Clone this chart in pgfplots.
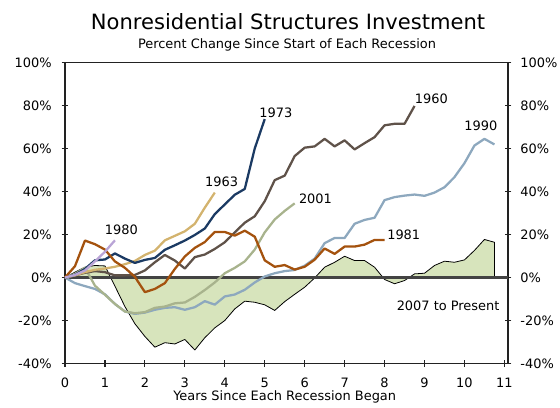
\documentclass[border=0pt]{standalone}
\usepackage{fontspec}
\setmainfont{DejaVu Sans}
\usepackage{xcolor}
\usepackage{pgfplots}
\pgfplotsset{compat=1.18}
\definecolor{cNavy}{HTML}{1B3A63}
\definecolor{cTaupe}{HTML}{5F5249}
\definecolor{cSteel}{HTML}{8DA8BE}
\definecolor{cTan}{HTML}{D3B36E}
\definecolor{cSage}{HTML}{A8B38D}
\definecolor{cRust}{HTML}{A4520E}
\definecolor{cLav}{HTML}{B9A4D6}
\definecolor{cFill}{HTML}{D7E4BC}
\definecolor{frame}{HTML}{222222}

\begin{document}
\begin{tikzpicture}
\path[use as bounding box] (0,0) rectangle (420pt,305.25pt);
\pgfplotsset{
  base/.style={
    at={(48.75pt,32.6pt)}, anchor=south west, scale only axis,
    width=332.25pt, height=225.75pt,
    xmin=0, xmax=11.09, ymin=-40, ymax=100,
    ytick={-40,-20,0,20,40,60,80,100},
    tick label style={font=\fontsize{9.7}{11}\selectfont},
  },
}
\begin{axis}[base,
  axis line style={frame, line width=1.1pt},
  tick style={frame, line width=0.9pt},
  tick align=center, major tick length=5pt,
  xtick={0,1,...,11}, xtick pos=bottom, ytick pos=both,
  xticklabels={0,1,2,3,4,5,6,7,8,9,10,11},
  yticklabels={-40\%,-20\%,0\%,20\%,40\%,60\%,80\%,100\%},
  yticklabel style={xshift=-4pt},
  xticklabel style={yshift=-4.5pt},
  every axis plot/.append style={line width=1.7pt, line join=round},
  clip=false]

% 2007 to present, shaded
\addplot[draw=black, line width=0.6pt, fill=cFill] coordinates {
  (0,0) (0.25,2.5) (0.5,4.8) (0.75,5.6) (1,5.4) (1.25,-4) (1.5,-13.5)
  (1.75,-21.5) (2,-27.4) (2.25,-32.4) (2.5,-30.3) (2.75,-30.9) (3,-28.8)
  (3.25,-33.7) (3.5,-28) (3.75,-23.4) (4,-20) (4.25,-14.6) (4.5,-11)
  (4.75,-11.5) (5,-12.7) (5.25,-15.3) (5.5,-11.2) (5.75,-7.8) (6,-4.5)
  (6.25,-0.2) (6.5,4.8) (6.75,7.1) (7,9.9) (7.25,7.9) (7.5,7.9) (7.75,4.8)
  (8,-0.9) (8.25,-2.9) (8.5,-1.4) (8.75,1.7) (9,2) (9.25,5.6) (9.5,7.6)
  (9.75,7.1) (10,8.2) (10.25,12.6) (10.5,17.7) (10.75,16.4) (10.75,0)};

\draw[frame!85, line width=1.6pt] (axis cs:0,0) -- (axis cs:11.09,0);

% 1990
\addplot[cSteel] coordinates {
  (0,0) (0.25,-2.6) (0.5,-4) (0.75,-5.3) (1,-7.8) (1.25,-12.3) (1.5,-15.8)
  (1.75,-16.9) (2,-16.3) (2.25,-15) (2.5,-14.1) (2.75,-13.8) (3,-15)
  (3.25,-13.8) (3.5,-11) (3.75,-12.6) (4,-8.8) (4.25,-7.9) (4.5,-5.7)
  (4.75,-2.3) (5,0.5) (5.25,2) (5.5,3) (5.75,3.5) (6,5.5) (6.25,8.8)
  (6.5,16) (6.75,18.4) (7,18.4) (7.25,25) (7.5,26.8) (7.75,27.8) (8,36)
  (8.25,37.4) (8.5,38.1) (8.75,38.6) (9,38) (9.25,39.5) (9.5,42) (9.75,46.7)
  (10,53.2) (10.25,61.4) (10.5,64.5) (10.75,61.9)};

% 2001
\addplot[cSage] coordinates {
  (0,0) (0.25,1.7) (0.5,4.6) (0.75,-3.8) (1,-8) (1.25,-12.3) (1.5,-15.8)
  (1.75,-16.6) (2,-16.1) (2.25,-14.1) (2.5,-13.5) (2.75,-12) (3,-11.6)
  (3.25,-9) (3.5,-5.8) (3.75,-2.3) (4,2) (4.25,4.5) (4.5,7.5) (4.75,13)
  (5,21) (5.25,27) (5.5,31) (5.75,34.5)};

% 1960
\addplot[cTaupe] coordinates {
  (0,0) (0.25,1) (0.5,2.2) (0.75,3) (1,2.5) (1.25,1) (1.5,1) (1.75,1.2)
  (2,3.3) (2.25,7.1) (2.5,10.5) (2.75,7.9) (3,4.2) (3.25,9.5) (3.5,10.7)
  (3.75,13.3) (4,16.4) (4.25,21) (4.5,25.5) (4.75,28.5) (5,35.5) (5.25,45.3)
  (5.5,47.4) (5.75,56.5) (6,60.4) (6.25,61) (6.5,64.5) (6.75,61) (7,63.8)
  (7.25,59.6) (7.5,62.5) (7.75,65.3) (8,70.8) (8.25,71.5) (8.5,71.5)
  (8.75,79.8)};

% 1963
\addplot[cTan] coordinates {
  (0,0) (0.25,1) (0.5,2.5) (0.75,3.6) (1,4.2) (1.25,5) (1.5,6.2) (1.75,7.7)
  (2,10.5) (2.25,12.5) (2.5,17.3) (2.75,19.4) (3,21.5) (3.25,25) (3.5,32.5)
  (3.75,39.5)};

% 1973
\addplot[cNavy] coordinates {
  (0,0) (0.25,1.3) (0.5,4) (0.75,8) (1,8.4) (1.25,11.2) (1.5,8.8) (1.75,6.8)
  (2,8.2) (2.25,9.1) (2.5,12.9) (2.75,15) (3,17.2) (3.25,19.8) (3.5,22.8)
  (3.75,29.5) (4,34) (4.25,38.5) (4.5,41.2) (4.75,60) (5,73.7)};

% 1981
\addplot[cRust] coordinates {
  (0,0) (0.25,5.3) (0.5,17.2) (0.75,15.5) (1,13) (1.25,7.5) (1.5,4.5)
  (1.75,0.3) (2,-6.8) (2.25,-5.3) (2.5,-2.6) (2.75,4) (3,9.8) (3.25,13.8)
  (3.5,16.5) (3.75,21.2) (4,21.2) (4.25,19.5) (4.5,21.8) (4.75,19) (5,8)
  (5.25,5) (5.5,5.8) (5.75,3.7) (6,5) (6.25,8.3) (6.5,13.5) (6.75,11)
  (7,14.4) (7.25,14.4) (7.5,15.3) (7.75,17.5) (8,17.5)};

% 1980
\addplot[cLav] coordinates {
  (0,0) (0.25,1.2) (0.5,3.3) (0.75,7.5) (1,12) (1.25,17.3)};

\begin{scope}[every node/.style={font=\fontsize{9.7}{11}\selectfont, inner sep=0pt}]
\node at (axis cs:5.28,76.8) {1973};
\node at (axis cs:3.92,44.6) {1963};
\node at (axis cs:1.41,22.1) {1980};
\node at (axis cs:9.17,83.3) {1960};
\node at (axis cs:10.41,70.5) {1990};
\node at (axis cs:6.27,36.5) {2001};
\node at (axis cs:8.48,20.1) {1981};
\node at (axis cs:9.59,-13.3) {2007 to Present};
\end{scope}
\end{axis}

\begin{axis}[base, hide x axis, axis y line*=right,
  axis line style={draw=none}, major tick length=0pt,
  yticklabels={-40\%,-20\%,0\%,20\%,40\%,60\%,80\%,100\%},
  yticklabel style={xshift=5.8pt}]
\end{axis}

\node[anchor=base, font=\fontsize{15.8}{18}\selectfont] at (216pt,282.75pt)
  {Nonresidential Structures Investment};
\node[anchor=base, font=\fontsize{9.7}{11}\selectfont] at (215.25pt,268.5pt)
  {Percent Change Since Start of Each Recession};
\node[anchor=base, font=\fontsize{9.7}{11}\selectfont] at (213.5pt,4.8pt)
  {Years Since Each Recession Began};
\end{tikzpicture}
\end{document}
